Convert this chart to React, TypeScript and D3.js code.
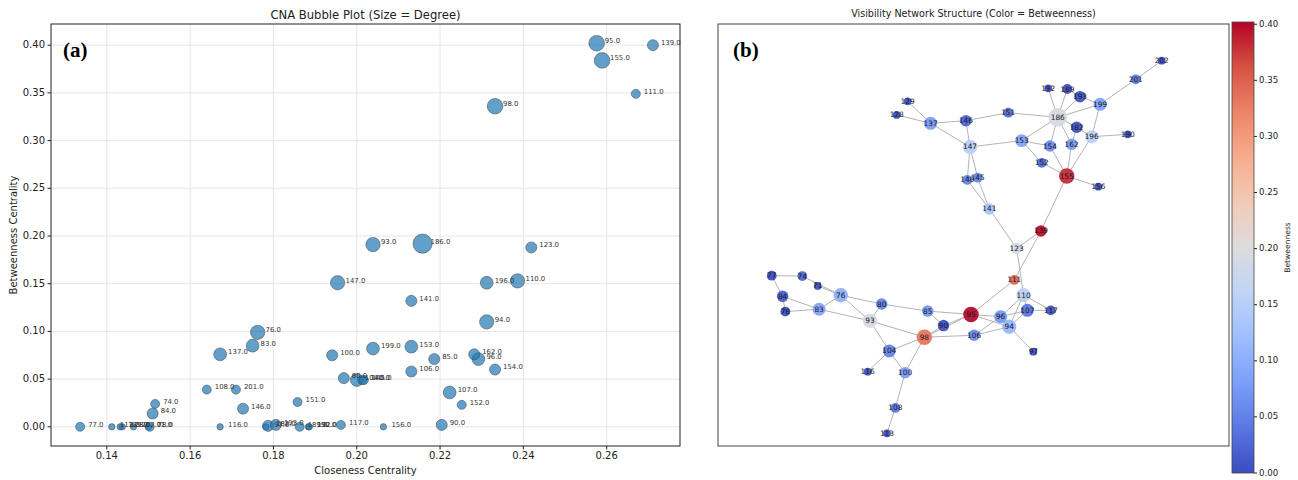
import * as d3 from "d3";
import React from "react";

// node ids, in the order used by every array below
const nodeIds = [71, 74, 76, 77, 78, 80, 83, 84, 85, 90, 93, 94, 95, 96, 97, 98, 100, 104, 106, 107, 108, 110, 111, 113, 116, 117, 123, 128, 129, 137, 139, 140, 141, 145, 146, 147, 151, 152, 153, 154, 155, 156, 162, 182, 186, 189, 190, 192, 193, 196, 199, 201, 202];

const closeness = [0.1500, 0.1516, 0.1762, 0.1336, 0.1503, 0.1969, 0.1750, 0.1510, 0.2186, 0.2204, 0.2039, 0.2312, 0.2576, 0.2292, 0.1782, 0.2332, 0.1941, 0.2000, 0.2131, 0.2223, 0.1640, 0.2386, 0.2670, 0.1412, 0.1672, 0.1962, 0.2419, 0.1437, 0.1432, 0.1672, 0.2711, 0.2013, 0.2131, 0.2017, 0.1727, 0.1954, 0.1858, 0.2252, 0.2131, 0.2332, 0.2589, 0.2064, 0.2282, 0.1787, 0.2158, 0.1863, 0.1884, 0.1886, 0.1806, 0.2312, 0.2039, 0.1710, 0.1464];

const betweenness = [0.000, 0.024, 0.099, 0.000, 0.000, 0.051, 0.085, 0.014, 0.071, 0.002, 0.191, 0.110, 0.402, 0.071, 0.000, 0.336, 0.075, 0.049, 0.058, 0.036, 0.039, 0.153, 0.349, 0.000, 0.000, 0.002, 0.188, 0.000, 0.000, 0.076, 0.400, 0.049, 0.132, 0.049, 0.019, 0.151, 0.026, 0.023, 0.084, 0.060, 0.384, 0.000, 0.076, 0.001, 0.192, 0.000, 0.000, 0.000, 0.002, 0.151, 0.082, 0.039, 0.000];

// spring-layout coordinates of the network (unitless, -1..1)
const layoutX = [-0.764, -0.843, -0.646, -1.000, -0.930, -0.436, -0.757, -0.944, -0.200, -0.119, -0.496, 0.218, 0.022, 0.174, 0.342, -0.217, -0.316, -0.397, 0.038, 0.311, -0.366, 0.292, 0.244, -0.409, -0.508, 0.431, 0.256, -0.359, -0.303, -0.185, 0.381, 0.003, 0.116, 0.056, -0.004, 0.017, 0.213, 0.385, 0.282, 0.427, 0.513, 0.675, 0.538, 0.564, 0.467, 0.516, 0.826, 0.418, 0.581, 0.641, 0.684, 0.867, 1.000];
const layoutY = [-0.209, -0.156, -0.259, -0.154, -0.347, -0.306, -0.334, -0.265, -0.344, -0.422, -0.396, -0.428, -0.362, -0.374, -0.562, -0.484, -0.675, -0.558, -0.474, -0.340, -0.864, -0.258, -0.177, -1.000, -0.669, -0.340, -0.007, 0.709, 0.782, 0.664, 0.086, 0.360, 0.204, 0.372, 0.678, 0.537, 0.721, 0.452, 0.571, 0.542, 0.381, 0.324, 0.551, 0.643, 0.696, 0.848, 0.605, 0.852, 0.807, 0.592, 0.766, 0.900, 1.000];

const edges: [number, number][] = [
  [77, 74], [77, 84], [84, 78], [84, 83], [78, 83], [74, 76], [71, 76], [83, 76], [83, 93],
  [76, 80], [76, 93], [80, 85], [80, 93], [93, 98], [93, 104], [85, 90], [85, 95], [90, 95],
  [98, 95], [98, 90], [98, 106], [98, 104], [98, 100], [104, 116], [104, 100], [100, 108],
  [108, 113], [95, 111], [95, 96], [95, 94], [106, 96], [106, 94], [96, 110], [94, 110],
  [94, 107], [94, 97], [96, 107], [107, 117], [110, 117], [110, 107], [110, 123], [111, 139],
  [123, 139], [123, 141], [139, 155], [141, 140], [141, 145], [140, 147], [145, 147],
  [147, 137], [147, 146], [147, 153], [137, 129], [137, 128], [137, 146], [146, 151],
  [151, 186], [153, 186], [153, 154], [153, 152], [152, 155], [154, 155], [154, 186],
  [162, 155], [162, 186], [162, 182], [196, 155], [196, 182], [196, 190], [196, 199],
  [155, 156], [182, 186], [186, 192], [186, 189], [186, 193], [186, 199], [189, 193],
  [199, 193], [199, 201], [201, 202],
];

const xTicks = [0.14, 0.16, 0.18, 0.20, 0.22, 0.24, 0.26];
const yTicks = [0.00, 0.05, 0.10, 0.15, 0.20, 0.25, 0.30, 0.35, 0.40];
const cbarTicks = [0.00, 0.05, 0.10, 0.15, 0.20, 0.25, 0.30, 0.35, 0.40];

// matplotlib "coolwarm"
const coolwarm = ["#3b4cc0", "#5977e3", "#7b9ff9", "#9ebeff", "#c0d4f5", "#dddcdc", "#f2cbb7", "#f7ac8e", "#ee8468", "#d65244", "#b40426"];

const FONT = "DejaVu Sans, sans-serif";

const App: React.FC = () => {
  const degree = new Map<number, number>();
  nodeIds.forEach((id) => degree.set(id, 0));
  edges.forEach(([a, b]) => {
    degree.set(a, (degree.get(a) || 0) + 1);
    degree.set(b, (degree.get(b) || 0) + 1);
  });

  const nodes = nodeIds.map((id, i) => ({
    id,
    c: closeness[i],
    b: betweenness[i],
    lx: layoutX[i],
    ly: layoutY[i],
    deg: degree.get(id) || 1,
  }));
  const byId = new Map(nodes.map((n) => [n.id, n]));

  // ---- left panel: bubble plot
  const L = { left: 51, right: 680, top: 24, bottom: 446 };
  const x = d3.scaleLinear().domain([0.1266, 0.2776]).range([L.left, L.right]);
  const y = d3.scaleLinear().domain([-0.0201, 0.4222]).range([L.bottom, L.top]);
  const r = d3.scaleSqrt().domain([0, 9]).range([0, 9.6]);

  // ---- right panel: network
  const R = { left: 718, right: 1229, top: 24, bottom: 446 };
  const nx = d3.scaleLinear().domain([-1, 1]).range([771.7, 1161.7]);
  const ny = d3.scaleLinear().domain([-1, 1]).range([433.3, 60.7]);
  const nr = (deg: number) => Math.sqrt(6 + 9 * deg);

  const vmax = d3.max(betweenness) || 0.4;
  const color = d3.scaleSequential(d3.interpolateRgbBasis(coolwarm)).domain([0, vmax]);
  const cb = { left: 1232, right: 1254, top: 22, bottom: 473 };
  const cy = d3.scaleLinear().domain([0, vmax]).range([cb.bottom, cb.top]);

  return (
    <svg width={1298} height={480} style={{ position: "absolute", left: 0, top: 0, background: "#fff" }} fontFamily={FONT}>
      <defs>
        <linearGradient id="cw" x1="0" y1="1" x2="0" y2="0">
          {coolwarm.map((c, i) => (
            <stop key={i} offset={`${(i / (coolwarm.length - 1)) * 100}%`} stopColor={c} />
          ))}
        </linearGradient>
        <clipPath id="clipL">
          <rect x={L.left} y={L.top} width={L.right - L.left} height={L.bottom - L.top} />
        </clipPath>
      </defs>
      <rect width={1298} height={480} fill="#fff" />

      {/* ===== (a) bubble plot ===== */}
      <g>
        {xTicks.map((t) => (
          <line key={`gx${t}`} x1={x(t)} x2={x(t)} y1={L.top} y2={L.bottom} stroke="#e3e3e3" strokeWidth={0.9} />
        ))}
        {yTicks.map((t) => (
          <line key={`gy${t}`} x1={L.left} x2={L.right} y1={y(t)} y2={y(t)} stroke="#e3e3e3" strokeWidth={0.9} />
        ))}
        <g clipPath="url(#clipL)">
          {nodes.map((n) => (
            <circle key={`b${n.id}`} cx={x(n.c)} cy={y(n.b)} r={r(n.deg)} fill="#1f77b4" fillOpacity={0.7} stroke="#3c3c3c" strokeOpacity={0.8} strokeWidth={0.6} />
          ))}
        </g>
        {nodes.map((n) => (
          <text key={`bl${n.id}`} x={x(n.c) + 8} y={y(n.b) - 2} fontSize={6.9} fill="#333" dominantBaseline="middle">
            {`${n.id}.0`}
          </text>
        ))}
        <rect x={L.left} y={L.top} width={L.right - L.left} height={L.bottom - L.top} fill="none" stroke="#222" strokeWidth={1} />
        {xTicks.map((t) => (
          <g key={`xt${t}`}>
            <line x1={x(t)} x2={x(t)} y1={L.bottom} y2={L.bottom + 3.5} stroke="#222" />
            <text x={x(t)} y={L.bottom + 13} fontSize={10} textAnchor="middle" fill="#222">{t.toFixed(2)}</text>
          </g>
        ))}
        {yTicks.map((t) => (
          <g key={`yt${t}`}>
            <line x1={L.left - 3.5} x2={L.left} y1={y(t)} y2={y(t)} stroke="#222" />
            <text x={L.left - 6} y={y(t)} fontSize={10} textAnchor="end" dominantBaseline="middle" fill="#222">{t.toFixed(2)}</text>
          </g>
        ))}
        <text x={(L.left + L.right) / 2} y={474} fontSize={10} textAnchor="middle" fill="#222">Closeness Centrality</text>
        <text transform={`translate(14,${(L.top + L.bottom) / 2}) rotate(-90)`} fontSize={10} textAnchor="middle" dominantBaseline="middle" fill="#222">Betweenness Centrality</text>
        <text x={(L.left + L.right) / 2} y={19} fontSize={11.6} textAnchor="middle" fill="#222">CNA Bubble Plot (Size = Degree)</text>
        <text x={63} y={57} fontSize={21} fontWeight="bold" fontFamily="Liberation Serif, Times New Roman, serif" fill="#000">(a)</text>
      </g>

      {/* ===== (b) network ===== */}
      <g>
        <rect x={R.left} y={R.top} width={R.right - R.left} height={R.bottom - R.top} fill="none" stroke="#444" strokeWidth={1} />
        {edges.map(([a, b], i) => {
          const na = byId.get(a)!;
          const nb = byId.get(b)!;
          return <line key={`e${i}`} x1={nx(na.lx)} y1={ny(na.ly)} x2={nx(nb.lx)} y2={ny(nb.ly)} stroke="#b4b4b4" strokeWidth={1} />;
        })}
        {nodes.map((n) => (
          <circle key={`n${n.id}`} cx={nx(n.lx)} cy={ny(n.ly)} r={nr(n.deg)} fill={color(n.b)} fillOpacity={0.92} />
        ))}
        {nodes.map((n) => (
          <text key={`nl${n.id}`} x={nx(n.lx)} y={ny(n.ly)} fontSize={7.4} textAnchor="middle" dominantBaseline="central" fill="#1a1a1a">
            {n.id}
          </text>
        ))}
        <text x={(R.left + R.right) / 2} y={17} fontSize={9.6} textAnchor="middle" fill="#222">Visibility Network Structure (Color = Betweenness)</text>
        <text x={733} y={57} fontSize={21} fontWeight="bold" fontFamily="Liberation Serif, Times New Roman, serif" fill="#000">(b)</text>
      </g>

      {/* ===== colorbar ===== */}
      <g>
        <rect x={cb.left} y={cb.top} width={cb.right - cb.left} height={cb.bottom - cb.top} fill="url(#cw)" stroke="#444" strokeWidth={0.8} />
        {cbarTicks.map((t) => (
          <g key={`ct${t}`}>
            <line x1={cb.right} x2={cb.right + 3} y1={cy(t)} y2={cy(t)} stroke="#222" />
            <text x={cb.right + 5} y={cy(t)} fontSize={8.6} dominantBaseline="middle" fill="#222">{t.toFixed(2)}</text>
          </g>
        ))}
        <text transform={`translate(1288,${(cb.top + cb.bottom) / 2}) rotate(-90)`} fontSize={7.6} textAnchor="middle" dominantBaseline="middle" fill="#222">Betweenness</text>
      </g>
    </svg>
  );
};

export default App;
